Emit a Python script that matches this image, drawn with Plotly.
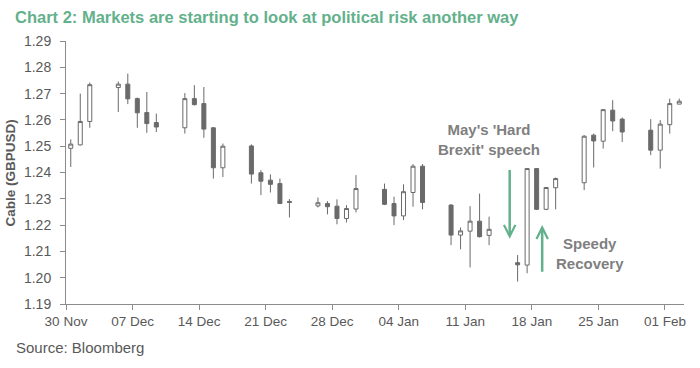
import plotly.graph_objects as go

dates = ["2016-11-30", "2016-12-01", "2016-12-02",
         "2016-12-05", "2016-12-06", "2016-12-07", "2016-12-08", "2016-12-09",
         "2016-12-12", "2016-12-13", "2016-12-14", "2016-12-15", "2016-12-16",
         "2016-12-19", "2016-12-20", "2016-12-21", "2016-12-22", "2016-12-23",
         "2016-12-26", "2016-12-27", "2016-12-28", "2016-12-29", "2016-12-30",
         "2017-01-02", "2017-01-03", "2017-01-04", "2017-01-05", "2017-01-06",
         "2017-01-09", "2017-01-10", "2017-01-11", "2017-01-12", "2017-01-13",
         "2017-01-16", "2017-01-17", "2017-01-18", "2017-01-19", "2017-01-20",
         "2017-01-23", "2017-01-24", "2017-01-25", "2017-01-26", "2017-01-27",
         "2017-01-30", "2017-01-31", "2017-02-01", "2017-02-02"]

open_ = [1.2492, 1.2505, 1.2594,
         1.2723, 1.2736, 1.2681, 1.2628, 1.2590,
         1.2570, 1.2681, 1.2662, 1.2570, 1.2418,
         1.2501, 1.2399, 1.2371, 1.2358, 1.2290,
         1.2273, 1.2282, 1.2272, 1.2225, 1.2261,
         1.2336, 1.2282, 1.2235, 1.2324, 1.2424,
         1.2276, 1.2162, 1.2177, 1.2215, 1.2161,
         1.2057, 1.2048, 1.2415, 1.2260, 1.2342,
         1.2361, 1.2542, 1.2519, 1.2637, 1.2603,
         1.2561, 1.2485, 1.2582, 1.2660]

high = [1.2526, 1.2700, 1.2742,
        1.2746, 1.2776, 1.2685, 1.2706, 1.2624,
        1.2702, 1.2732, 1.2725, 1.2572, 1.2510,
        1.2507, 1.2409, 1.2393, 1.2377, 1.2299,
        1.2305, 1.2291, 1.2298, 1.2276, 1.2390,
        1.2358, 1.2308, 1.2355, 1.2432, 1.2432,
        1.2280, 1.2191, 1.2272, 1.2320, 1.2232,
        1.2086, 1.2417, 1.2417, 1.2345, 1.2381,
        1.2542, 1.2548, 1.2640, 1.2675, 1.2609,
        1.2603, 1.2599, 1.2681, 1.2681]

low = [1.2421, 1.2503, 1.2570,
       1.2630, 1.2660, 1.2570, 1.2551, 1.2554,
       1.2548, 1.2655, 1.2532, 1.2377, 1.2383,
       1.2358, 1.2314, 1.2324, 1.2280, 1.2229,
       1.2267, 1.2241, 1.2203, 1.2210, 1.2248,
       1.2276, 1.2200, 1.2219, 1.2270, 1.2260,
       1.2124, 1.2108, 1.2039, 1.2153, 1.2124,
       1.1985, 1.2017, 1.2257, 1.2257, 1.2260,
       1.2333, 1.2419, 1.2491, 1.2557, 1.2516,
       1.2466, 1.2415, 1.2548, 1.2660]

close = [1.2508, 1.2594, 1.2734,
         1.2736, 1.2680, 1.2627, 1.2586, 1.2573,
         1.2681, 1.2658, 1.2565, 1.2418, 1.2500,
         1.2394, 1.2367, 1.2355, 1.2282, 1.2286,
         1.2285, 1.2270, 1.2225, 1.2263, 1.2339,
         1.2279, 1.2235, 1.2327, 1.2424, 1.2286,
         1.2162, 1.2178, 1.2215, 1.2156, 1.2184,
         1.2049, 1.2415, 1.2260, 1.2343, 1.2377,
         1.2538, 1.2520, 1.2639, 1.2596, 1.2554,
         1.2485, 1.2584, 1.2662, 1.2671]

tick_dates = ["2016-11-30", "2016-12-07", "2016-12-14", "2016-12-21", "2016-12-28",
              "2017-01-04", "2017-01-11", "2017-01-18", "2017-01-25", "2017-02-01"]
y_ticks = [1.19, 1.20, 1.21, 1.22, 1.23, 1.24, 1.25, 1.26, 1.27, 1.28, 1.29]

title_text = "Chart 2: Markets are starting to look at political risk another way"
y_title = "Cable (GBPUSD)"
source_text = "Source: Bloomberg"
note_speech = "May's 'Hard<br>Brexit' speech"
note_recovery = "Speedy<br>Recovery"

GREEN = "#63b18c"
GRAY_TXT = "#595959"
NOTE_GRAY = "#7f7f7f"
AXIS = "#8c8c8c"
CANDLE = "#6a6a6a"
FONT = "Liberation Sans, Arial, sans-serif"

fig = go.Figure(go.Candlestick(
    x=dates, open=open_, high=high, low=low, close=close,
    xperiod=86400000, xperiodalignment="middle",
    increasing=dict(line=dict(color=CANDLE, width=1), fillcolor="white"),
    decreasing=dict(line=dict(color=CANDLE, width=1), fillcolor=CANDLE),
    whiskerwidth=0, showlegend=False, hoverinfo="skip",
))

fig.update_layout(
    width=700, height=368,
    margin=dict(l=66, r=16, t=41, b=64),
    paper_bgcolor="white", plot_bgcolor="white",
    boxgap=0.4,
    font=dict(family=FONT, color=GRAY_TXT, size=14),
    title=dict(text="<b>" + title_text + "</b>", x=15 / 700, xanchor="left",
               xref="container", y=1 - 17 / 368, yanchor="middle", yref="container",
               font=dict(size=16.5, color=GREEN, family=FONT)),
    xaxis=dict(type="date", range=["2016-11-30", "2017-02-03"],
               tickvals=tick_dates, tickformat="%d %b",
               showline=True, linecolor=AXIS, linewidth=1,
               ticks="outside", ticklen=5, tickcolor=AXIS,
               showgrid=False, zeroline=False,
               rangeslider=dict(visible=False),
               tickfont=dict(size=13.5, color=GRAY_TXT)),
    yaxis=dict(range=[1.19, 1.29], tickvals=y_ticks, tickformat=".2f",
               showline=True, linecolor=AXIS, linewidth=1,
               ticks="outside", ticklen=5, tickcolor=AXIS,
               ticklabelstandoff=6,
               showgrid=False, zeroline=False,
               tickfont=dict(size=14, color=GRAY_TXT)),
    annotations=[
        dict(text="<b>" + y_title + "</b>", x=(10 - 66) / 618, y=0.5,
             xref="paper", yref="paper", textangle=-90, showarrow=False,
             xanchor="center", yanchor="middle",
             font=dict(size=13.5, color=GRAY_TXT)),
        dict(text=source_text, x=(14 - 66) / 618, y=(304 - 347) / 263,
             xref="paper", yref="paper", showarrow=False,
             xanchor="left", yanchor="middle",
             font=dict(size=15, color=GRAY_TXT)),
        dict(text="<b>" + note_speech + "</b>", x="2017-01-13 12:00", y=1.2525,
             xref="x", yref="y", showarrow=False, align="center",
             xanchor="center", yanchor="middle",
             font=dict(size=15, color=NOTE_GRAY)),
        dict(text="<b>" + note_recovery + "</b>", x="2017-01-24 02:00", y=1.2092,
             xref="x", yref="y", showarrow=False, align="center",
             xanchor="center", yanchor="middle",
             font=dict(size=15, color=NOTE_GRAY)),
        dict(x="2017-01-15 16:00", y=1.2148, ax="2017-01-15 16:00", ay=1.2415,
             xref="x", yref="y", axref="x", ayref="y", text="",
             showarrow=True, arrowhead=5, arrowsize=0.9, arrowwidth=2.5,
             arrowcolor=GREEN),
        dict(x="2017-01-19 02:00", y=1.2200, ax="2017-01-19 02:00", ay=1.2017,
             xref="x", yref="y", axref="x", ayref="y", text="",
             showarrow=True, arrowhead=5, arrowsize=0.9, arrowwidth=2.5,
             arrowcolor=GREEN),
    ],
)

fig.write_html("out.html", config={"displayModeBar": False},
               post_script="document.body.style.margin='0';")
